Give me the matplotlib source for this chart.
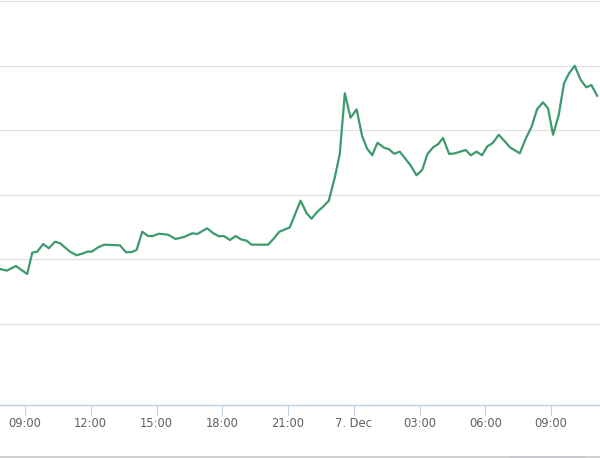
import pandas as pd
import matplotlib
matplotlib.use('Agg')
import matplotlib.pyplot as plt
import matplotlib.dates as mdates
from matplotlib.patches import Rectangle

# Data: hours after 6 Dec 00:00 and price readings
hours = [7.86, 8.17, 8.58, 9.10, 9.33, 9.56, 9.83, 10.09, 10.37, 10.60,
         11.05, 11.36, 11.66, 11.84, 12.04, 12.34, 12.62, 13.03, 13.33, 13.61,
         13.87, 14.09, 14.35, 14.62, 14.82, 15.11, 15.53, 15.87, 16.26, 16.63,
         16.86, 17.31, 17.59, 17.85, 18.07, 18.35, 18.61, 18.84, 19.11, 19.34,
         20.09, 20.32, 20.60, 21.08, 21.57, 21.85, 22.07, 22.35, 22.60, 22.86,
         23.14, 23.36, 23.59, 23.85, 24.13, 24.38, 24.61, 24.84, 25.08, 25.38,
         25.61, 25.84, 26.10, 26.59, 26.86, 27.12, 27.36, 27.62, 27.85, 28.07,
         28.35, 28.61, 29.10, 29.34, 29.60, 29.85, 30.08, 30.35, 30.61, 30.86,
         31.12, 31.57, 31.85, 32.11, 32.36, 32.63, 32.86, 33.09, 33.35, 33.59,
         33.82, 34.08, 34.35, 34.61, 34.84, 35.10]
prices = [242.6, 241.3, 244.9, 238.7, 255.2, 256.0, 261.9, 258.6, 263.7, 262.5,
          256.0, 253.2, 254.7, 256.0, 256.0, 259.4, 261.4, 261.1, 260.9, 255.5,
          255.7, 257.3, 271.4, 268.1, 268.1, 269.9, 269.1, 265.8, 267.4, 270.2,
          269.7, 274.1, 270.2, 267.9, 268.1, 265.0, 268.1, 265.6, 264.5, 261.4,
          261.4, 265.6, 271.4, 274.8, 295.4, 285.7, 281.5, 287.2, 290.8, 295.4,
          314.0, 331.6, 378.6, 359.7, 366.2, 345.5, 335.7, 330.6, 340.3, 336.5,
          335.2, 331.8, 333.4, 322.8, 315.1, 319.2, 331.6, 336.8, 339.3, 344.0,
          331.6, 332.1, 334.7, 330.6, 333.4, 330.6, 337.3, 340.3, 346.5, 341.9,
          336.8, 332.1, 343.7, 352.7, 366.2, 371.6, 367.0, 346.5, 361.8, 386.3,
          394.0, 399.9, 388.9, 383.2, 385.0, 376.7]

start = pd.Timestamp('2013-12-06')
times = [start + pd.Timedelta(hours=h) for h in hours]

fig = plt.figure(figsize=(6, 4.58), dpi=100)
ax = fig.add_axes([0, 53 / 458, 1, 405 / 458])

ax.plot(times, prices, color='#3d9a6c', linewidth=1.6, solid_joinstyle='round')

ax.set_xlim(start + pd.Timedelta(hours=7.859), start + pd.Timedelta(hours=35.232))
ax.set_ylim(137.3, 450.8)

ax.set_yticks([200, 250, 300, 350, 400, 450])
ax.yaxis.grid(True, color='#e0e0e0', linewidth=0.9)
ax.tick_params(axis='y', left=False, labelleft=False)

tick_times = [start + pd.Timedelta(hours=h) for h in range(9, 35, 3)]
tick_labels = ['09:00', '12:00', '15:00', '18:00', '21:00', '7. Dec', '03:00', '06:00', '09:00']
ax.set_xticks(tick_times)
ax.set_xticklabels(tick_labels)
ax.tick_params(axis='x', length=7.2, width=0.8, color='#c0d0e0',
               labelsize=8.3, labelcolor='#606060', pad=1.5)

for side in ['top', 'left', 'right']:
    ax.spines[side].set_visible(False)
ax.spines['bottom'].set_color('#c0d0e0')
ax.spines['bottom'].set_linewidth(1.0)
ax.set_axisbelow(True)

# navigator edge at the bottom
fig.add_artist(plt.Line2D([0, 1], [1.5 / 458, 1.5 / 458], color='#c8c8c8', linewidth=1.2))
fig.add_artist(Rectangle((509 / 600, 0), 76 / 600, 2 / 458, color='#c8d0e0', linewidth=0))

fig.savefig('out.png', dpi=100)
